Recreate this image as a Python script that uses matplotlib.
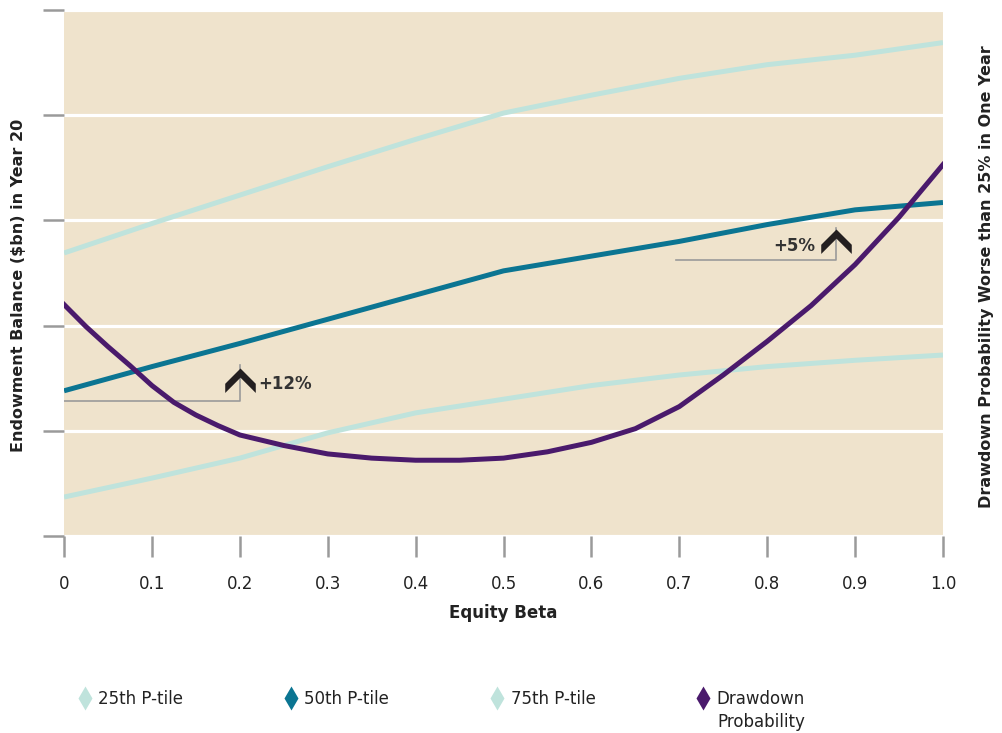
import numpy as np
import matplotlib.pyplot as plt
from matplotlib.lines import Line2D
from matplotlib.path import Path

# equity beta steps
beta = [0.0, 0.1, 0.2, 0.3, 0.4, 0.5, 0.6, 0.7, 0.8, 0.9, 1.0]
beta_tick_labels = ['0', '0.1', '0.2', '0.3', '0.4', '0.5', '0.6', '0.7', '0.8', '0.9', '1.0']

# endowment balance percentiles (arbitrary units)
p25 = [0.37, 0.55, 0.74, 0.98, 1.17, 1.30, 1.43, 1.53, 1.61, 1.67, 1.72]
p50 = [1.38, 1.61, 1.83, 2.06, 2.29, 2.52, 2.66, 2.80, 2.96, 3.10, 3.17]
p75 = [2.69, 2.97, 3.24, 3.51, 3.77, 4.02, 4.19, 4.35, 4.48, 4.57, 4.69]

# drawdown probability, finer steps
beta_dd = [0.0, 0.025, 0.05, 0.075, 0.1, 0.125, 0.15, 0.175, 0.2, 0.25, 0.3, 0.35,
           0.4, 0.45, 0.5, 0.55, 0.6, 0.65, 0.7, 0.75, 0.8, 0.85, 0.9, 0.95, 1.0]
drawdown = [2.20, 1.99, 1.80, 1.62, 1.43, 1.27, 1.15, 1.05, 0.96, 0.86, 0.78, 0.74,
            0.72, 0.72, 0.74, 0.80, 0.89, 1.02, 1.23, 1.53, 1.85, 2.19, 2.58, 3.03, 3.53]

# brackets: (x_start, x_corner, y_low, y_high, label)
brackets = [(0.0, 0.2, 1.283, 1.625, '+12%'),
            (0.696, 0.878, 2.62, 2.93, '+5%')]

bg = '#EFE3CC'
c_light = '#BFE3DC'
c_teal = '#0B7592'
c_purple = '#4A1A6C'
c_gray = '#9A9A9A'
c_text = '#222222'

fig = plt.figure(figsize=(10.02, 7.33), dpi=100)
ax = fig.add_axes([0.0639, 0.2688, 0.8772, 0.7176])
ax.set_facecolor(bg)

ax.plot(beta, p25, color=c_light, lw=3.6, solid_capstyle='butt', solid_joinstyle='round', zorder=3)
ax.plot(beta, p75, color=c_light, lw=3.6, solid_capstyle='butt', solid_joinstyle='round', zorder=3)
ax.plot(beta, p50, color=c_teal, lw=3.6, solid_capstyle='butt', solid_joinstyle='round', zorder=4)

ax.set_xlim(0, 1.0)
ax.set_ylim(0, 5)
ax.set_xticks(beta)
ax.set_xticklabels(beta_tick_labels)
ax.set_yticks([0, 1, 2, 3, 4, 5])
ax.set_yticklabels([])
ax.grid(axis='y', color='white', lw=2.3)
ax.set_axisbelow(True)
for s in ax.spines.values():
    s.set_visible(False)
ax.tick_params(axis='both', direction='out', length=15, width=1.8, color=c_gray,
               labelsize=12, labelcolor=c_text)
ax.tick_params(axis='x', pad=13)

# chevron marker
chev = Path([(-1, -0.15), (0, 0.85), (1, -0.15), (1, -0.75), (0, 0.25), (-1, -0.75), (-1, -0.15)],
            [Path.MOVETO] + [Path.LINETO] * 5 + [Path.CLOSEPOLY])

for x0, x1, ylo, yhi, lab in brackets:
    ax.plot([x0, x1, x1], [ylo, ylo, yhi], color=c_gray, lw=1.2, zorder=5)
    ymid = ylo + (yhi - ylo) * 0.55
    ax.plot([x1], [ymid], marker=chev, markersize=22, color='#231F20', zorder=6, mec='none')
    if x0 == 0.0:
        ax.text(x1 + 0.021, ymid - 0.03, lab, ha='left', va='center', fontsize=12,
                fontweight='bold', color='#333333')
    else:
        ax.text(x1 - 0.023, ymid - 0.03, lab, ha='right', va='center', fontsize=12,
                fontweight='bold', color='#333333')

ax2 = ax.twinx()
ax2.plot(beta_dd, drawdown, color=c_purple, lw=3.6, zorder=5, solid_joinstyle='round')
ax2.set_ylim(0, 5)
ax2.set_yticks([])
for s in ax2.spines.values():
    s.set_visible(False)

ax.set_xlabel('Equity Beta', fontsize=12, fontweight='bold', color=c_text, labelpad=8)
fig.text(0.018, 0.61, 'Endowment Balance ($bn) in Year 20', rotation=90, ha='center', va='center',
         fontsize=11.5, fontweight='bold', color=c_text)
fig.text(0.985, 0.623, 'Drawdown Probability Worse than 25% in One Year', rotation=90,
         ha='center', va='center', fontsize=11.5, fontweight='bold', color=c_text)

legend_items = [('25th P-tile', c_light, 0.072),
                ('50th P-tile', c_teal, 0.278),
                ('75th P-tile', c_light, 0.484),
                ('Drawdown', c_purple, 0.689)]
for lab, col, xpos in legend_items:
    h = Line2D([], [], ls='none', marker='d', markersize=12, color=col, mec='none')
    fig.legend(handles=[h], labels=[lab], loc='upper left', bbox_to_anchor=(xpos, 0.068),
               frameon=False, fontsize=12, handlelength=0.7, handletextpad=0.45,
               borderaxespad=0, labelcolor=c_text)
fig.text(0.7155, 0.015, 'Probability', ha='left', va='center', fontsize=12, color=c_text)

fig.savefig('out.png', dpi=100)
